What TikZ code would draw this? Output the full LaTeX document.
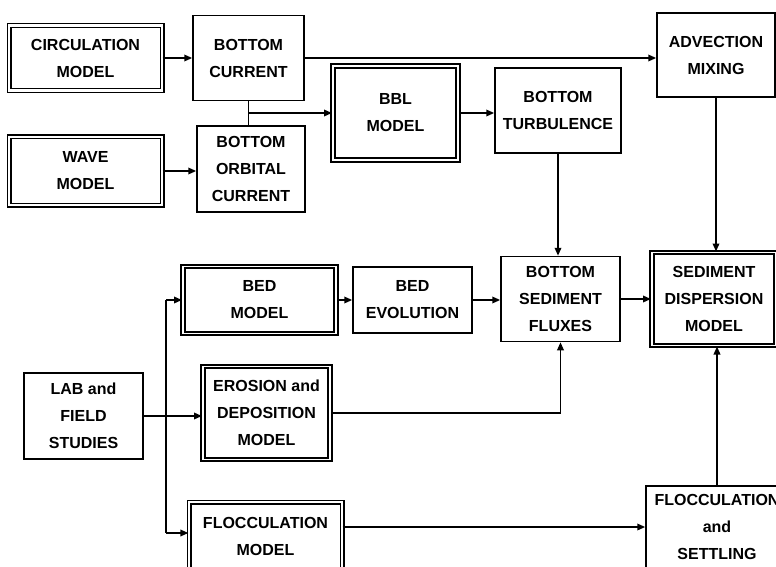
\documentclass[tikz,border=0pt]{standalone}
\usepackage{fontspec}
\setmainfont{Liberation Sans}
\usetikzlibrary{arrows.meta}
\begin{document}
\begin{tikzpicture}[x=1pt,y=-1pt,
  lbl/.style={align=center,inner sep=0pt,font=\bfseries\fontsize{16}{27}\selectfont},
  sbox/.style={lbl,draw,line width=1.5pt},
  dbox/.style={lbl,draw,line width=1.2pt,double,double distance=2.6pt},
  tbox/.style={lbl,draw,line width=2pt,double,double distance=1.8pt},
  arr/.style={line width=1.8pt,-{Triangle[length=8pt,width=6.5pt]}},
  ln/.style={line width=1.8pt}]
\useasboundingbox (0,0) rectangle (776,567);
\clip (0,0) rectangle (776,567);
\fill[white] (0,0) rectangle (776,567);
% nodes
\node[dbox,minimum width=153pt,minimum height=65pt] (circ) at (85.5,58) {CIRCULATION\\MODEL};
\node[sbox,minimum width=111pt,minimum height=85pt] (bcur) at (248.5,58) {BOTTOM\\CURRENT};
\node[dbox,minimum width=153pt,minimum height=68pt] (wave) at (85.5,171) {WAVE\\MODEL};
\node[sbox,minimum width=108pt,minimum height=86pt] (borb) at (251,169) {BOTTOM\\ORBITAL\\CURRENT};
\node[tbox,minimum width=125pt,minimum height=94pt] (bbl) at (395.5,113) {BBL\\MODEL};
\node[sbox,minimum width=126pt,minimum height=85pt] (bturb) at (558,110.5) {BOTTOM\\TURBULENCE};
\node[sbox,minimum width=118pt,minimum height=84pt] (adv) at (716,55) {ADVECTION\\MIXING};
\node[tbox,minimum width=153pt,minimum height=67pt] (bed) at (259.5,300) {BED\\MODEL};
\node[sbox,minimum width=119pt,minimum height=66pt] (bevo) at (412.5,300) {BED\\EVOLUTION};
\node[sbox,minimum width=119pt,minimum height=86pt] (lab) at (83.5,416) {LAB and\\FIELD\\STUDIES};
\node[tbox,minimum width=127pt,minimum height=93pt] (eros) at (266.5,413) {EROSION and\\DEPOSITION\\MODEL};
\node[dbox,minimum width=153pt,minimum height=68pt] (floc) at (265.5,536) {FLOCCULATION\\MODEL};
\node[sbox,minimum width=119pt,minimum height=85pt] (bsf) at (560.5,299) {BOTTOM\\SEDIMENT\\FLUXES};
\node[tbox,minimum width=124pt,minimum height=93pt] (sdm) at (714,299) {SEDIMENT\\DISPERSION\\MODEL};
\node[sbox,minimum width=142pt,minimum height=82pt] (fset) at (717,527) {FLOCCULATION\\and\\SETTLING};
% connectors
\draw[arr] (circ) -- (bcur);
\draw[arr] (wave.east) -- (wave.east -| borb.west);
\coordinate (j) at (bcur.south |- bbl.west);
\draw[ln] (bcur.south) -- (bcur.south |- borb.north);
\draw[arr] (j) -- (bbl.west);
\draw[arr] (bcur.east) -- (bcur.east -| adv.west);
\draw[arr] (bbl.east) -- (bbl.east -| bturb.west);
\draw[arr] (bturb.south) -- (bturb.south |- bsf.north);
\draw[arr] (adv.south) -- (adv.south |- sdm.north);
\draw[arr] (bed) -- (bevo);
\draw[arr] (bevo.east) -- (bevo.east -| bsf.west);
\draw[arr] (bsf) -- (sdm);
\draw[arr] (lab.east) -- (lab.east -| eros.west);
\coordinate (vt) at (166,300);
\coordinate (vb) at (166,533);
\draw[ln] (vt) -- (vb);
\draw[arr] (vt) -- (vt -| bed.west);
\draw[arr] (vb) -- (vb -| floc.west);
\draw[arr] (eros.east) -| (bsf.south);
\draw[arr] (floc.east |- fset.west) -- (fset.west);
\draw[arr] (fset.north) -- (fset.north |- sdm.south);
\end{tikzpicture}
\end{document}
